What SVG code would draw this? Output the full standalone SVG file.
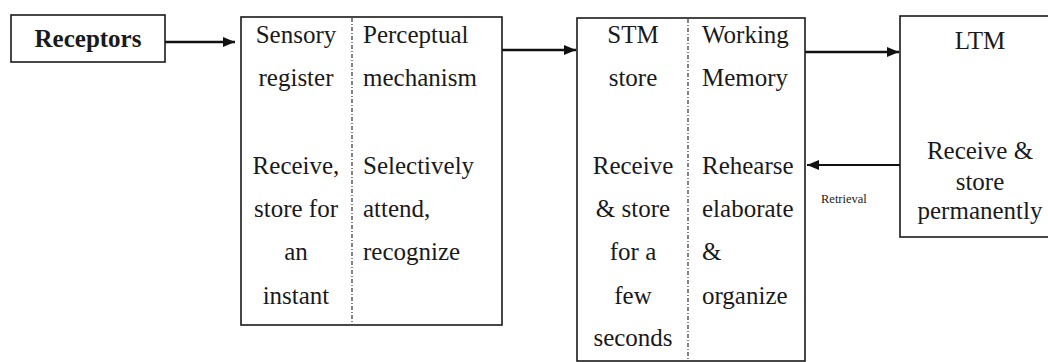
<svg xmlns="http://www.w3.org/2000/svg" width="1048" height="362" viewBox="0 0 1048 362">
  <style>
    .box { fill: #fff; stroke: #1a1a1a; stroke-width: 1.6; }
    .div { stroke: #333; stroke-width: 1.2; stroke-dasharray: 4 2 1 2; }
    .t { font-family: "Liberation Serif", "Times New Roman", serif; font-size: 25px; fill: #1a1a1a; }
    .c { text-anchor: middle; }
    .b { font-weight: bold; }
    .small { font-family: "Liberation Serif", "Times New Roman", serif; font-size: 12.5px; fill: #222; }
    .arrow { stroke: #111; stroke-width: 2.6; fill: none; }
    .thin { stroke: #111; stroke-width: 1.8; fill: none; }
  </style>
  <defs>
    <marker id="head" viewBox="0 0 12 10" refX="12" refY="5" markerWidth="12" markerHeight="10" markerUnits="userSpaceOnUse" orient="auto">
      <path d="M0,0 L12,5 L0,10 Z" fill="#111"/>
    </marker>
  </defs>
  <rect width="1048" height="362" fill="#fff"/>

  <!-- connectors -->
  <g id="connectors">
    <line class="arrow" x1="165" y1="42" x2="235" y2="42" marker-end="url(#head)"/>
    <line class="arrow" x1="502" y1="50" x2="576" y2="50" marker-end="url(#head)"/>
    <line class="arrow" x1="805" y1="52" x2="899" y2="52" marker-end="url(#head)"/>
    <line class="thin" x1="900" y1="165" x2="807" y2="165" marker-end="url(#head)"/>
    <text class="small" x="821" y="203">Retrieval</text>
  </g>

  <!-- input node -->
  <g id="receptors">
    <rect class="box" x="11" y="15" width="154" height="47"/>
    <text class="t b c" x="88" y="47">Receptors</text>
  </g>

  <!-- sensory register / perceptual mechanism -->
  <g id="sensory">
    <rect class="box" x="241" y="17" width="261" height="308"/>
    <line class="div" x1="352" y1="18" x2="352" y2="324"/>
    <text class="t c" x="296" y="43">Sensory</text>
    <text class="t c" x="296" y="86">register</text>
    <text class="t c" x="296" y="174">Receive,</text>
    <text class="t c" x="296" y="217">store for</text>
    <text class="t c" x="296" y="260">an</text>
    <text class="t c" x="296" y="304">instant</text>
    <text class="t" x="363" y="43">Perceptual</text>
    <text class="t" x="363" y="86">mechanism</text>
    <text class="t" x="363" y="174">Selectively</text>
    <text class="t" x="363" y="217">attend,</text>
    <text class="t" x="363" y="260">recognize</text>
  </g>

  <!-- short-term store / working memory -->
  <g id="stm">
    <rect class="box" x="577" y="18" width="228" height="343"/>
    <line class="div" x1="688" y1="19" x2="688" y2="361"/>
    <text class="t c" x="633" y="43">STM</text>
    <text class="t c" x="633" y="86">store</text>
    <text class="t c" x="633" y="174">Receive</text>
    <text class="t c" x="633" y="217">&amp; store</text>
    <text class="t c" x="633" y="260">for a</text>
    <text class="t c" x="633" y="304">few</text>
    <text class="t c" x="633" y="346">seconds</text>
    <text class="t" x="702" y="43">Working</text>
    <text class="t" x="702" y="86">Memory</text>
    <text class="t" x="702" y="174">Rehearse</text>
    <text class="t" x="702" y="217">elaborate</text>
    <text class="t" x="702" y="260">&amp;</text>
    <text class="t" x="702" y="304">organize</text>
  </g>

  <!-- long-term memory -->
  <g id="ltm">
    <rect class="box" x="900" y="16" width="160" height="221"/>
    <text class="t c" x="980" y="49">LTM</text>
    <text class="t c" x="980" y="159">Receive &amp;</text>
    <text class="t c" x="980" y="190">store</text>
    <text class="t c" x="980" y="219">permanently</text>
  </g>
</svg>
